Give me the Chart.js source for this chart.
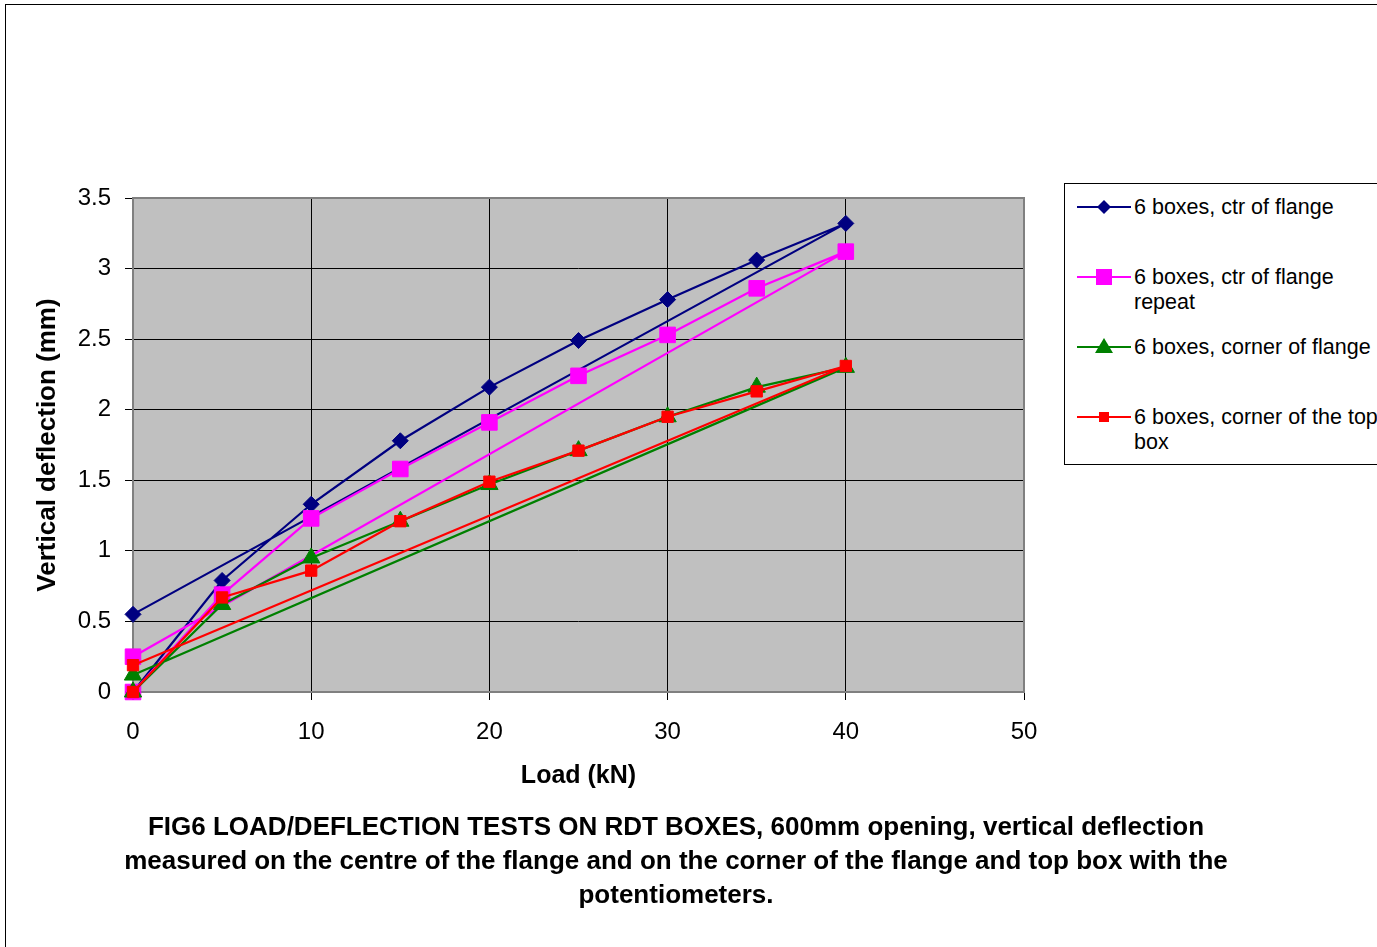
<!DOCTYPE html>
<html>
<head>
<meta charset="utf-8">
<script src="https://cdn.jsdelivr.net/npm/chart.js@4/dist/chart.umd.min.js"></script>
<style>
    html, body { margin: 0; padding: 0; background: #fff; overflow: hidden; }
    body { width: 1377px; height: 947px; position: relative; font-family: 'Liberation Sans', Arial, sans-serif; }
    #frame { position: absolute; left: 5px; top: 4px; width: 2000px; height: 2000px; border-top: 1px solid #000; border-left: 1px solid #000; }
    #chart { position: absolute; left: 0; top: 0; }
    #legend { position: absolute; left: 1064px; top: 183px; width: 340px; height: 280px; border: 1px solid #000; background: #fff; }
    .entry { position: absolute; left: 11px; }
    .entry svg { position: absolute; left: 0; top: 0; }
    .entry .txt { position: absolute; left: 58px; top: 0; font-size: 21.5px; line-height: 25px; white-space: nowrap; color: #000; }
    #caption { position: absolute; left: 0; width: 1352px; top: 809px; text-align: center; font-weight: bold; font-size: 26px; line-height: 34px; color: #000; }
</style>
</head>
<body>
<div id="frame"></div>
<canvas id="chart" width="1377" height="947"></canvas>
<div id="legend"></div>
<div id="caption">FIG6 LOAD/DEFLECTION TESTS ON RDT BOXES, 600mm opening, vertical deflection<br>measured on the centre of the flange and on the corner of the flange and top box with the<br>potentiometers.</div>
<script>
// Data: loading 0 -> 40 kN, then unloading back to 0
const loads = [0, 5, 10, 15, 20, 25, 30, 35, 40, 0];

const ctrFlange = [0, 0.79, 1.33, 1.78, 2.16, 2.49, 2.78, 3.06, 3.32, 0.55];
const ctrFlangeRepeat = [0, 0.69, 1.23, 1.58, 1.91, 2.24, 2.53, 2.86, 3.12, 0.25];
const cornerFlange = [0, 0.62, 0.95, 1.21, 1.47, 1.71, 1.95, 2.16, 2.30, 0.12];
const cornerTopBox = [0, 0.67, 0.86, 1.21, 1.49, 1.71, 1.95, 2.13, 2.31, 0.19];

const seriesNames = [
    '6 boxes, ctr of flange',
    '6 boxes, ctr of flange repeat',
    '6 boxes, corner of flange',
    '6 boxes, corner of the top box'
];
const legendLines = [
    ['6 boxes, ctr of flange'],
    ['6 boxes, ctr of flange', 'repeat'],
    ['6 boxes, corner of flange'],
    ['6 boxes, corner of the top', 'box']
];

const xTicksMax = 50;
const yTicksMax = 3.5;

const FONT = "'Liberation Sans', Arial, sans-serif";

function toPoints(ys) {
    return ys.map((y, i) => ({ x: loads[i], y: y }));
}

const styles = [
    { color: '#000080', shape: 'rectRot', radius: 8 },
    { color: '#FF00FF', shape: 'rect', radius: 11 },
    { color: '#008000', shape: 'triangle', radius: 10 },
    { color: '#FF0000', shape: 'rect', radius: 8 }
];

const allSeries = [ctrFlange, ctrFlangeRepeat, cornerFlange, cornerTopBox];

// Plot area background and grey frame
const plotArea = {
    id: 'plotArea',
    beforeDraw(chart) {
        const a = chart.chartArea;
        const c = chart.ctx;
        c.save();
        c.fillStyle = '#C0C0C0';
        c.fillRect(a.left, a.top, a.right - a.left, a.bottom - a.top);
        c.restore();
    },
    beforeDatasetsDraw(chart) {
        const a = chart.chartArea;
        const c = chart.ctx;
        c.save();
        c.strokeStyle = '#808080';
        c.lineWidth = 2;
        c.strokeRect(a.left, a.top, a.right - a.left, a.bottom - a.top);
        c.restore();
    }
};

const edgeGrid = (ctx) => {
    const t = ctx.tick;
    if (!t) return '#000';
    return (t.value === 0 || t.value === xTicksMax || t.value === yTicksMax) ? 'rgba(0,0,0,0)' : '#000';
};

new Chart(document.getElementById('chart'), {
    type: 'scatter',
    data: {
        datasets: allSeries.map((ys, i) => ({
            label: seriesNames[i],
            data: toPoints(ys),
            showLine: true,
            borderColor: styles[i].color,
            backgroundColor: styles[i].color,
            borderWidth: 2.2,
            pointStyle: styles[i].shape,
            pointRadius: styles[i].radius,
            pointHoverRadius: styles[i].radius,
            pointBorderWidth: 1,
            tension: 0,
            clip: false,
            order: 4 - i
        }))
    },
    options: {
        responsive: false,
        animation: false,
        layout: { padding: { left: 30, top: 198, right: 353, bottom: 155 } },
        plugins: {
            legend: { display: false },
            tooltip: { enabled: false }
        },
        scales: {
            x: {
                type: 'linear',
                min: 0,
                max: xTicksMax,
                ticks: { stepSize: 10, color: '#000', padding: 18, font: { family: FONT, size: 24 } },
                grid: { color: edgeGrid, tickColor: '#000', lineWidth: 1, tickLength: 8 },
                border: { display: false },
                title: { display: true, text: 'Load (kN)', color: '#000', padding: { top: 0, bottom: 1 }, font: { family: FONT, size: 25, weight: 'bold' } },
                afterFit(scale) { scale.height = 100; }
            },
            y: {
                type: 'linear',
                min: 0,
                max: yTicksMax,
                ticks: { stepSize: 0.5, color: '#000', padding: 14, font: { family: FONT, size: 24 }, callback: v => String(v) },
                grid: { color: edgeGrid, tickColor: '#000', lineWidth: 1, tickLength: 8 },
                border: { display: false },
                title: { display: true, text: 'Vertical deflection (mm)', color: '#000', padding: { top: 2, bottom: 0 }, font: { family: FONT, size: 26, weight: 'bold' } },
                afterFit(scale) { scale.width = 103; }
            }
        }
    },
    plugins: [plotArea]
});

// Legend (HTML)
function markerSvg(style) {
    const cx = 28, cy = 12;
    let shape = '';
    if (style.shape === 'rectRot') {
        shape = `<polygon points="${cx},${cy - 7} ${cx + 7},${cy} ${cx},${cy + 7} ${cx - 7},${cy}" fill="${style.color}"/>`;
    } else if (style.shape === 'triangle') {
        shape = `<polygon points="${cx},${cy - 9} ${cx + 9},${cy + 6} ${cx - 9},${cy + 6}" fill="${style.color}"/>`;
    } else {
        const s = style.radius > 9 ? 8 : 5;
        shape = `<rect x="${cx - s}" y="${cy - s}" width="${2 * s}" height="${2 * s}" fill="${style.color}"/>`;
    }
    return `<svg width="56" height="24"><line x1="1" y1="${cy}" x2="55" y2="${cy}" stroke="${style.color}" stroke-width="2"/>${shape}</svg>`;
}

const legendTops = [11, 81, 151, 221];
const legend = document.getElementById('legend');
legend.innerHTML = styles.map((s, i) => `
    <div class="entry" style="top:${legendTops[i]}px">
        ${markerSvg(s)}
        <div class="txt">${legendLines[i].join('<br>')}</div>
    </div>`).join('');
</script>
</body>
</html>
